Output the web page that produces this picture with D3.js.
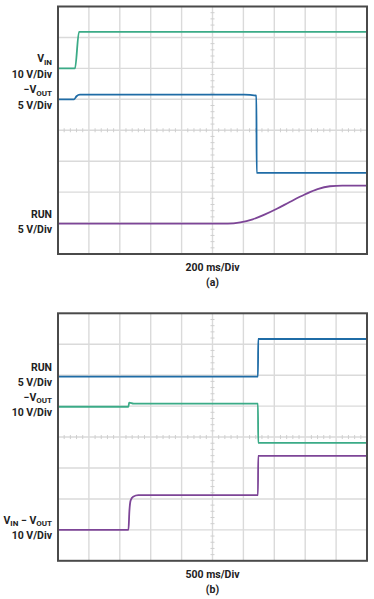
<!DOCTYPE html>
<html>
<head>
<meta charset="utf-8">
<script src="https://cdn.jsdelivr.net/npm/d3@7"></script>
<style>
  body { margin: 0; background: #fff; }
  text { font-family: Roboto, "Open Sans", sans-serif; font-weight: 700; fill: #222; }
</style>
</head>
<body>
<div id="chart"></div>
<script>
// trace data in scope divisions: x = 0..10 across, y = 0..8 up from bottom
const vinA = [[0, 6.0], [0.55, 6.0], [0.68, 7.18], [10, 7.18]];
const voutA = [[0, 5.0], [0.52, 5.0], [0.6, 5.1], [0.71, 5.15], [6.03, 5.15], [6.42, 5.12], [6.43, 2.62], [10, 2.62]];
const runA = [[0, 0.98], [5.5, 0.98], [5.9, 1.02], [6.3, 1.12], [6.7, 1.28], [7.1, 1.47], [7.5, 1.68], [8.0, 1.93],
  [8.4, 2.1], [8.8, 2.19], [9.2, 2.21], [10, 2.21]];

const runB = [[0, 5.95], [6.47, 5.95], [6.48, 7.17], [10, 7.17]];
const voutB = [[0, 4.98], [2.28, 4.98], [2.3, 5.11], [2.45, 5.08], [6.47, 5.08], [6.48, 3.81], [10, 3.81]];
const vdiffB = [[0, 1.0], [2.28, 1.0], [2.31, 1.6], [2.35, 1.95], [2.43, 2.07], [2.6, 2.12], [6.47, 2.12], [6.48, 3.39], [10, 3.39]];

const timebase = ['200 ms/Div', '500 ms/Div'];
const captions = ['(a)', '(b)'];

const green = '#3bab87', blue = '#1f6ca6', purple = '#7d4597';

const panels = [
  {
    top: 6.5, traces: [[vinA, green], [voutA, blue], [runA, purple]],
    labels: [
      { y: 6.0, main: [['V', null], ['IN', 'sub']], sub: '10 V/Div' },
      { y: 5.0, main: [['\u2212V', null], ['OUT', 'sub']], sub: '5 V/Div' },
      { y: 0.98, main: [['RUN', null]], sub: '5 V/Div' }
    ]
  },
  {
    top: 313.3, traces: [[runB, blue], [voutB, green], [vdiffB, purple]],
    labels: [
      { y: 5.95, main: [['RUN', null]], sub: '5 V/Div' },
      { y: 4.98, main: [['\u2212V', null], ['OUT', 'sub']], sub: '10 V/Div' },
      { y: 1.0, main: [['V', null], ['IN', 'sub'], [' \u2212 V', null], ['OUT', 'sub']], sub: '10 V/Div' }
    ]
  }
];

const W = 374, H = 599;
const left = 58, right = 367, ph = 247.5;

const svg = d3.select('#chart').append('svg')
  .attr('width', W)
  .attr('height', H);

const x = d3.scaleLinear().domain([0, 10]).range([left, right]);

panels.forEach((p, i) => {
  const y = d3.scaleLinear().domain([0, 8]).range([p.top + ph, p.top]);
  const g = svg.append('g');

  // grid
  g.selectAll('.vgrid').data(d3.range(1, 10)).enter().append('line')
    .attr('x1', d => x(d)).attr('x2', d => x(d))
    .attr('y1', y(0)).attr('y2', y(8))
    .attr('stroke', '#dadada').attr('stroke-width', 1.4);
  g.selectAll('.hgrid').data(d3.range(1, 8)).enter().append('line')
    .attr('x1', x(0)).attr('x2', x(10))
    .attr('y1', d => y(d)).attr('y2', d => y(d))
    .attr('stroke', '#dadada').attr('stroke-width', 1.4);

  // minor ticks on center lines
  const xt = d3.range(0.2, 10, 0.2).filter(d => Math.abs(d - Math.round(d)) > 0.01);
  const yt = d3.range(0.2, 8, 0.2).filter(d => Math.abs(d - Math.round(d)) > 0.01);
  g.selectAll('.xt').data(xt).enter().append('line')
    .attr('x1', d => x(d)).attr('x2', d => x(d))
    .attr('y1', y(4) - 2).attr('y2', y(4) + 2)
    .attr('stroke', '#cfcfcf').attr('stroke-width', 1);
  g.selectAll('.yt').data(yt).enter().append('line')
    .attr('x1', x(5) - 2).attr('x2', x(5) + 2)
    .attr('y1', d => y(d)).attr('y2', d => y(d))
    .attr('stroke', '#cfcfcf').attr('stroke-width', 1);

  // traces
  const line = d3.line().x(d => x(d[0])).y(d => y(d[1])).curve(d3.curveMonotoneX);
  p.traces.forEach(([data, color]) => {
    g.append('path')
      .datum(data)
      .attr('d', line)
      .attr('fill', 'none')
      .attr('stroke', color)
      .attr('stroke-width', 1.8);
  });

  // frame
  g.append('rect')
    .attr('x', x(0)).attr('y', y(8))
    .attr('width', x(10) - x(0)).attr('height', y(0) - y(8))
    .attr('fill', 'none').attr('stroke', '#4a4a4a').attr('stroke-width', 2);

  // channel labels
  p.labels.forEach(l => {
    const t = g.append('text')
      .attr('x', 52).attr('y', y(l.y) - 3.5)
      .attr('text-anchor', 'end')
      .style('font-size', '10.5px');
    l.main.forEach(([s, kind]) => {
      if (kind === 'sub') {
        t.append('tspan').attr('dy', 2.5).style('font-size', '8px').text(s);
      } else {
        t.append('tspan').attr('dy', t.selectAll('tspan').size() ? -2.5 : 0).text(s);
      }
    });
    g.append('text')
      .attr('x', 52).attr('y', y(l.y) + 9.5)
      .attr('text-anchor', 'end')
      .style('font-size', '10.5px')
      .text(l.sub);
  });

  g.append('text')
    .attr('x', x(5)).attr('y', y(0) + 17)
    .attr('text-anchor', 'middle')
    .style('font-size', '10.5px')
    .text(timebase[i]);
  g.append('text')
    .attr('x', x(5)).attr('y', y(0) + 32)
    .attr('text-anchor', 'middle')
    .style('font-size', '10.5px')
    .text(captions[i]);
});
</script>
</body>
</html>
